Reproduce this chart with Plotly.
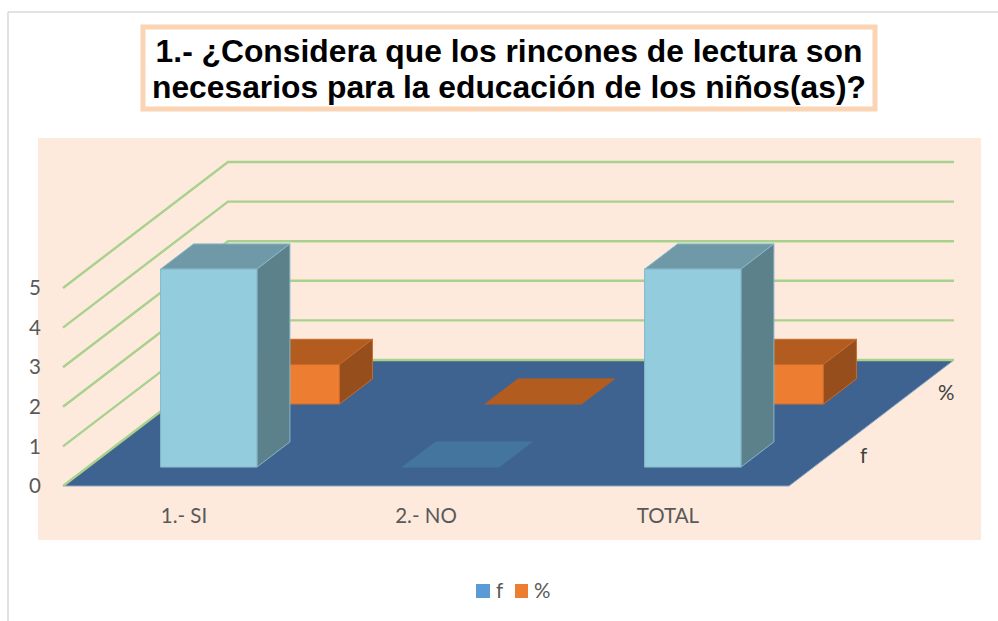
import plotly.graph_objects as go

# ---- data ----
categories = ["1.- SI", "2.- NO", "TOTAL"]
series_names = ["f", "%"]
f_values = [5, 0, 5]
pct_values = [1, 0, 1]
value_ticks = [0, 1, 2, 3, 4, 5]
title_line_1 = "1.- ¿Considera que los rincones de lectura son"
title_line_2 = "necesarios para la educación de los niños(as)?"

# ---- page geometry (pixels) ----
W, H = 998, 621
PL, PR, PT, PB = 42, 981, 138, 501       # plot area
X0, Y0 = 63, 486                         # where category 0 / value 0 fall
CAT_PX, VAL_PX = 242, 39.6               # pixels per category / per value unit
DEPTH_PX = (165, 126)                    # full floor depth vector

xrange_ = [(PL - X0) / CAT_PX, (PR - X0) / CAT_PX]
yrange_ = [(Y0 - PB) / VAL_PX, (Y0 - PT) / VAL_PX]
DX, DY = DEPTH_PX[0] / CAT_PX, DEPTH_PX[1] / VAL_PX
BAR_W, BAR_D = 0.398, 0.4                # share of a category / of a series band


def proj(cat, depth, val):
    """Oblique projection of (category, depth 0..1, value) into axis units."""
    return cat + depth * DX, val + depth * DY


def poly(points, fill, edge, name):
    xs, ys = zip(*points)
    return go.Scatter(
        x=list(xs) + [xs[0]], y=list(ys) + [ys[0]], mode="lines", fill="toself",
        fillcolor=fill, line=dict(color=edge, width=1), hoverinfo="skip",
        showlegend=False, name=name,
    )


def px_x(p):
    return (p - PL) / (PR - PL)


def px_y(p):
    return (PB - p) / (PB - PT)


STYLE = {
    "f": dict(front="#93CCDD", top="#7099A8", side="#5D818B", edge="#86B7C8", flat="#44759F"),
    "%": dict(front="#ED7D31", top="#B35C20", side="#964F1C", edge="#C96A2C", flat="#B35C20"),
}

fig = go.Figure()

# floor
ncat = len(categories)
fig.add_trace(poly([proj(0, 0, 0), proj(ncat, 0, 0), proj(ncat, 1, 0), proj(0, 1, 0)],
                   "#3E6390", "#8FA6C0", "floor"))

# gridlines: side wall then back wall
for v in value_ticks:
    a, b, c = proj(0, 0, v), proj(0, 1, v), proj(ncat, 1, v)
    fig.add_trace(go.Scatter(x=[a[0], b[0], c[0]], y=[a[1], b[1], c[1]], mode="lines",
                             line=dict(color="#A9D18E", width=2.4), hoverinfo="skip",
                             showlegend=False, name="grid"))


def add_bar(cat_i, series_i, value, style):
    band = 1 / len(series_names)
    d0 = band * (series_i + (1 - BAR_D) / 2)
    d1 = d0 + band * BAR_D
    c0 = cat_i + (1 - BAR_W) / 2
    c1 = c0 + BAR_W
    if value == 0:
        fig.add_trace(poly([proj(c0, d0, 0), proj(c1, d0, 0), proj(c1, d1, 0), proj(c0, d1, 0)],
                           style["flat"], style["flat"], series_names[series_i]))
        return
    fig.add_trace(poly([proj(c0, d0, value), proj(c1, d0, value), proj(c1, d1, value), proj(c0, d1, value)],
                       style["top"], style["edge"], series_names[series_i]))
    fig.add_trace(poly([proj(c1, d0, 0), proj(c1, d1, 0), proj(c1, d1, value), proj(c1, d0, value)],
                       style["side"], style["edge"], series_names[series_i]))
    fig.add_trace(poly([proj(c0, d0, 0), proj(c1, d0, 0), proj(c1, d0, value), proj(c0, d0, value)],
                       style["front"], style["edge"], series_names[series_i]))


# back series first so the front series covers it
for si, vals in reversed(list(enumerate([f_values, pct_values]))):
    for ci, v in enumerate(vals):
        add_bar(ci, si, v, STYLE[series_names[si]])

# ---- page furniture ----
shapes = [
    dict(type="line", xref="paper", yref="paper", x0=px_x(8), x1=px_x(998), y0=px_y(12), y1=px_y(12),
         line=dict(color="#D9D9D9", width=1.5), layer="below"),
    dict(type="line", xref="paper", yref="paper", x0=px_x(8), x1=px_x(8), y0=px_y(12), y1=px_y(621),
         line=dict(color="#D9D9D9", width=1.5), layer="below"),
    dict(type="rect", xref="paper", yref="paper", x0=px_x(38), x1=px_x(981), y0=px_y(138), y1=px_y(540),
         fillcolor="#FDEADC", line=dict(width=0), layer="below"),
    dict(type="rect", xref="paper", yref="paper", x0=px_x(143), x1=px_x(875), y0=px_y(27), y1=px_y(109),
         fillcolor="#FFFFFF", line=dict(color="#FBD4B4", width=5), layer="below"),
    dict(type="rect", xref="paper", yref="paper", x0=px_x(476), x1=px_x(490), y0=px_y(584), y1=px_y(598),
         fillcolor="#5B9BD5", line=dict(width=0)),
    dict(type="rect", xref="paper", yref="paper", x0=px_x(515), x1=px_x(528), y0=px_y(584), y1=px_y(598),
         fillcolor="#ED7D31", line=dict(width=0)),
]

FONT = "Lato, 'Open Sans', sans-serif"
TITLE_FONT = dict(family="'Liberation Sans', Arial, sans-serif", size=31.8, color="#000000", weight="bold")
annotations = []
# depth-axis labels at the right floor edge
for si, name in enumerate(series_names):
    dx_, dy_ = proj(ncat, (si + 0.5) / len(series_names), 0)
    annotations.append(dict(x=dx_, y=dy_, xref="x", yref="y", text=name, showarrow=False,
                            xshift=33, font=dict(family=FONT, size=20.5, color="#404040")))
# legend text
annotations.append(dict(x=px_x(494), y=px_y(590), xref="paper", yref="paper", text=series_names[0],
                        xanchor="left", yanchor="middle", showarrow=False,
                        font=dict(family=FONT, size=20.5, color="#595959")))
annotations.append(dict(x=px_x(532), y=px_y(590), xref="paper", yref="paper", text=series_names[1],
                        xanchor="left", yanchor="middle", showarrow=False,
                        font=dict(family=FONT, size=20.5, color="#595959")))
# second title line (the reference's line spacing is tighter than a single title allows)
annotations.append(dict(x=px_x(508.5), y=px_y(87), xref="paper", yref="paper", text=title_line_2,
                        xanchor="center", yanchor="middle", showarrow=False, font=TITLE_FONT))

fig.update_layout(
    width=W, height=H, autosize=False,
    margin=dict(l=PL, r=W - PR, t=PT, b=H - PB, pad=0),
    paper_bgcolor="#FFFFFF", plot_bgcolor="rgba(0,0,0,0)",
    showlegend=False, shapes=shapes, annotations=annotations,
    title=dict(text=title_line_1, x=509 / W, xanchor="center", y=1 - 51 / H, yanchor="middle",
               xref="container", yref="container", font=TITLE_FONT),
    xaxis=dict(range=xrange_, tickmode="array", tickvals=[i + 0.5 for i in range(ncat)], ticktext=categories,
               showgrid=False, zeroline=False, showline=False, ticks="", fixedrange=True,
               tickfont=dict(family=FONT, size=20.5, color="#595959")),
    yaxis=dict(range=yrange_, tickmode="array", tickvals=value_ticks, ticktext=[str(v) for v in value_ticks],
               showgrid=False, zeroline=False, showline=False, ticks="", fixedrange=True,
               tickfont=dict(family=FONT, size=20.5, color="#595959")),
)

fig.write_html("out.html", config=dict(displayModeBar=False),
               post_script="document.body.style.margin='0';")
